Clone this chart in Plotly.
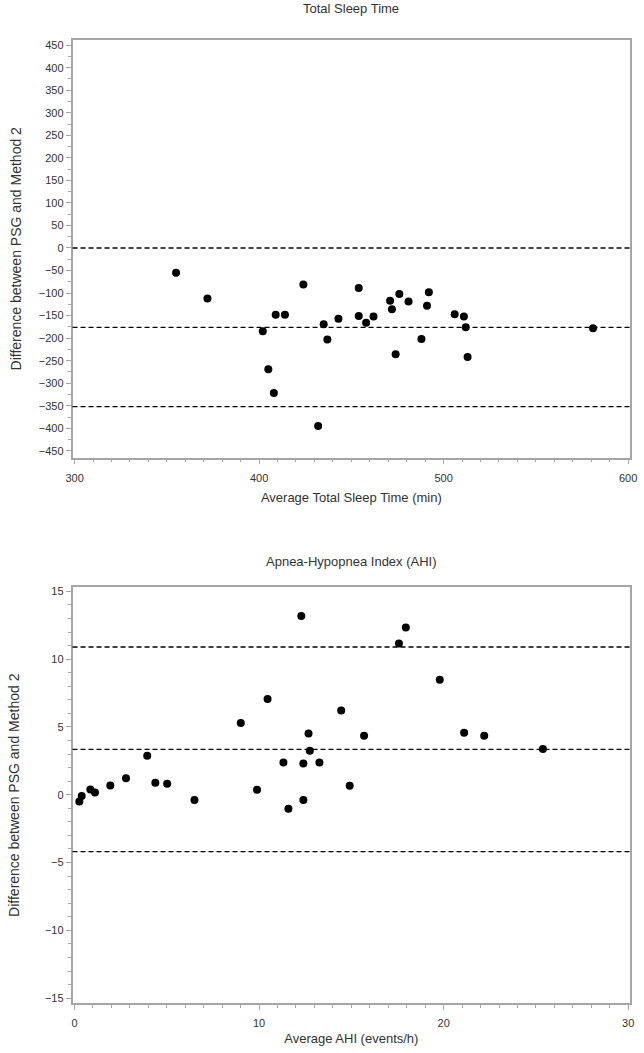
import plotly.graph_objects as go

# ---------------- data ----------------
tst_avg = [355, 372, 402, 405, 408, 409, 414, 424, 432, 435, 437, 443, 454, 454,
           458, 462, 471, 472, 474, 476, 481, 488, 491, 492, 506, 511, 512, 513, 581]
tst_diff = [-55, -112, -185, -269, -322, -148, -148, -81, -395, -169, -203, -157, -89, -151,
            -166, -152, -117, -136, -236, -102, -119, -202, -128, -98, -147, -152, -176, -242, -178]
tst_lines = [0, -176, -352]

ahi_avg = [12.29, 10.46, 9.01, 14.45, 12.68, 12.75, 11.32, 12.40, 13.27, 3.94, 2.79, 1.94,
           4.38, 5.02, 0.86, 1.11, 0.39, 0.26, 6.50, 9.89, 12.40, 11.59, 14.91,
           15.69, 17.58, 17.95, 19.79, 21.11, 22.20, 25.38]
ahi_diff = [13.18, 7.06, 5.29, 6.22, 4.51, 3.24, 2.38, 2.30, 2.38, 2.87, 1.22, 0.69,
            0.88, 0.81, 0.39, 0.17, -0.10, -0.49, -0.39, 0.37, -0.39, -1.03, 0.66,
            4.36, 11.15, 12.33, 8.48, 4.58, 4.36, 3.38]
ahi_lines = [10.9, 3.35, -4.2]

tst_xticks = [300, 400, 500, 600]
tst_yticks = list(range(-450, 451, 50))
ahi_xticks = [0, 10, 20, 30]
ahi_yticks = [-15, -10, -5, 0, 5, 10, 15]

# ---------------- figure ----------------
W, H = 644, 1053
FONT = "Liberation Sans, Arial, sans-serif"
FRAME = "#a6a6a6"
TXT = "#333333"

def px_x(p):
    return p / W

def px_y(p):
    return 1 - p / H

fig = go.Figure()
fig.add_trace(go.Scatter(x=tst_avg, y=tst_diff, mode="markers",
                         marker=dict(color="black", size=8), xaxis="x", yaxis="y",
                         showlegend=False, hoverinfo="x+y"))
fig.add_trace(go.Scatter(x=ahi_avg, y=ahi_diff, mode="markers",
                         marker=dict(color="black", size=8), xaxis="x2", yaxis="y2",
                         showlegend=False, hoverinfo="x+y"))

for v in tst_lines:
    fig.add_shape(type="line", xref="x domain", yref="y", x0=0, x1=1, y0=v, y1=v,
                  line=dict(color="black", width=1.3, dash="5px,3px"))
for v in ahi_lines:
    fig.add_shape(type="line", xref="x2 domain", yref="y2", x0=0, x1=1, y0=v, y1=v,
                  line=dict(color="black", width=1.3, dash="5px,3px"))

axis_common = dict(showline=True, mirror=True, linecolor=FRAME, linewidth=1.5,
                   showgrid=False, zeroline=False, ticks="outside", tickcolor=FRAME,
                   ticklen=5, tickwidth=1, tickfont=dict(family=FONT, size=11, color=TXT))

fig.update_layout(
    width=W, height=H, margin=dict(l=0, r=0, t=0, b=0),
    paper_bgcolor="white", plot_bgcolor="white",
    font=dict(family=FONT, color=TXT),
    xaxis=dict(axis_common, domain=[px_x(67), px_x(637)], range=[298.9, 601.1],
               tickvals=tst_xticks, anchor="y", ticklabelstandoff=4,
               minor=dict(dtick=10, tick0=300, ticklen=3, tickcolor=FRAME, ticks="outside"),
               title=dict(text="Average Total Sleep Time (min)", font=dict(size=13, family=FONT, color=TXT), standoff=10)),
    yaxis=dict(axis_common, domain=[px_y(457), px_y(38)], range=[-465.3, 461.7],
               tickvals=tst_yticks, anchor="x",
               minor=dict(dtick=25, tick0=0, ticklen=3, tickcolor=FRAME, ticks="outside"),
               title=dict(text="Difference between PSG and Method 2", font=dict(size=14, family=FONT, color=TXT), standoff=14)),
    xaxis2=dict(axis_common, domain=[px_x(67), px_x(637)], range=[-0.106, 30.106],
                tickvals=ahi_xticks, anchor="y2", ticklabelstandoff=4,
                minor=dict(dtick=1, tick0=0, ticklen=3, tickcolor=FRAME, ticks="outside"),
                title=dict(text="Average AHI (events/h)", font=dict(size=13, family=FONT, color=TXT), standoff=6)),
    yaxis2=dict(axis_common, domain=[px_y(1004), px_y(587)], range=[-15.37, 15.3],
                tickvals=ahi_yticks, anchor="x2",
                minor=dict(dtick=1, tick0=0, ticklen=3, tickcolor=FRAME, ticks="outside"),
                title=dict(text="Difference between PSG and Method 2", font=dict(size=14, family=FONT, color=TXT), standoff=22)),
    annotations=[
        dict(text="Total Sleep Time", xref="paper", yref="paper", x=px_x(352), y=px_y(7),
             showarrow=False, font=dict(size=13, family=FONT, color=TXT), yanchor="middle"),
        dict(text="Apnea-Hypopnea Index (AHI)", xref="paper", yref="paper", x=px_x(352), y=px_y(561),
             showarrow=False, font=dict(size=13, family=FONT, color=TXT), yanchor="middle"),
    ],
)

fig.write_html("out.html",
               config={"displayModeBar": False},
               post_script="document.body.style.margin='0px';document.body.style.overflow='hidden';")
